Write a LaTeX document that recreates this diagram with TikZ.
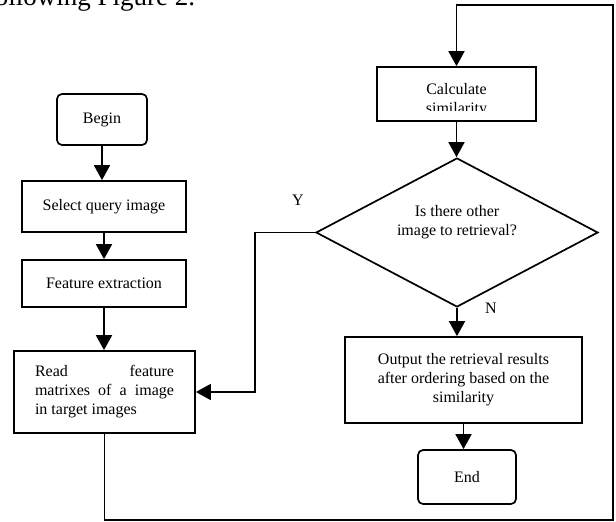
\documentclass[tikz,border=0pt]{standalone}
\usepackage{fontspec}
\setmainfont{Liberation Serif}
\usetikzlibrary{shapes,arrows.meta,positioning,calc}

\begin{document}
\begin{tikzpicture}[x=1pt,y=-1pt,line width=1.7pt,
   words/.style={inner sep=0,font=\fontsize{16}{19}\selectfont},
   box/.style={words,draw=black,rectangle},
   roundbox/.style={box,rounded corners=5pt},
   decision/.style={draw=black,diamond,inner sep=0,minimum width=282pt,minimum height=149pt},
   flow/.style={-{Triangle[length=15pt,width=16pt]}}]

   \useasboundingbox (0,0) rectangle (616,522);

   % Text above the figure
   \node[anchor=base east,inner sep=0,font=\fontsize{27}{32}\selectfont] (caption) at (196,5.5) {following Figure 2.};

   % Left column
   \node[roundbox,minimum width=90pt,minimum height=51pt] (begin) at (102,119.5) {Begin};
   \node[box,minimum width=164pt,minimum height=51pt] (select) at (104,206.5) {Select query image};
   \node[box,minimum width=164pt,minimum height=47pt] (feature) at (104,283.5) {Feature extraction};
   \node[box,minimum width=181pt,minimum height=82pt,text width=139pt,align=justify] (read) at (104.5,392) {Read feature\linebreak matrixes of a image\linebreak in target images};

   % Right column
   \node[box,minimum width=159pt,minimum height=54pt] (calc) at (456.5,94) {};
   \begin{scope}
      \clip (377,67) rectangle (536,110);
      \node[words,align=center] (calctext) at (456.5,100) {Calculate\\similarity};
   \end{scope}
   \node[decision] (check) at (457,232.5) {};
   \node[words,align=center] (checktext) at (457,222) {Is there other\\image to retrieval?};
   \node[box,minimum width=237pt,minimum height=86pt,align=center] (output) at (463.5,380) {Output the retrieval results\\after ordering based on the\\similarity};
   \node[roundbox,minimum width=98pt,minimum height=54pt] (finish) at (467,477) {End};

   % Branch labels
   \node[words] (ylabel) at (298,200) {Y};
   \node[words] (nlabel) at (491,308) {N};

   % Arrows
   \draw[flow] (begin.south) -- (begin.south |- select.north);
   \draw[flow] (select) -- (feature);
   \draw[flow] (feature.south) -- (feature.south |- read.north);
   \draw[flow] (calc.south) -- (calc.south |- check.north);
   \draw[flow] (check.south) -- (check.south |- output.north);
   \draw[flow] (output.south) -- (output.south |- finish.north);

   % Y branch back to reading
   \coordinate (yturn) at (255,232.5);
   \draw[flow] (check.west) -- (yturn) |- (read.east);

   % Loop round to the similarity step
   \coordinate (loopbr) at (613,520);
   \coordinate (looptr) at (613,5);
   \draw[flow] (read.south) |- (loopbr) -- (looptr) -| (calc.north);

\end{tikzpicture}
\end{document}
